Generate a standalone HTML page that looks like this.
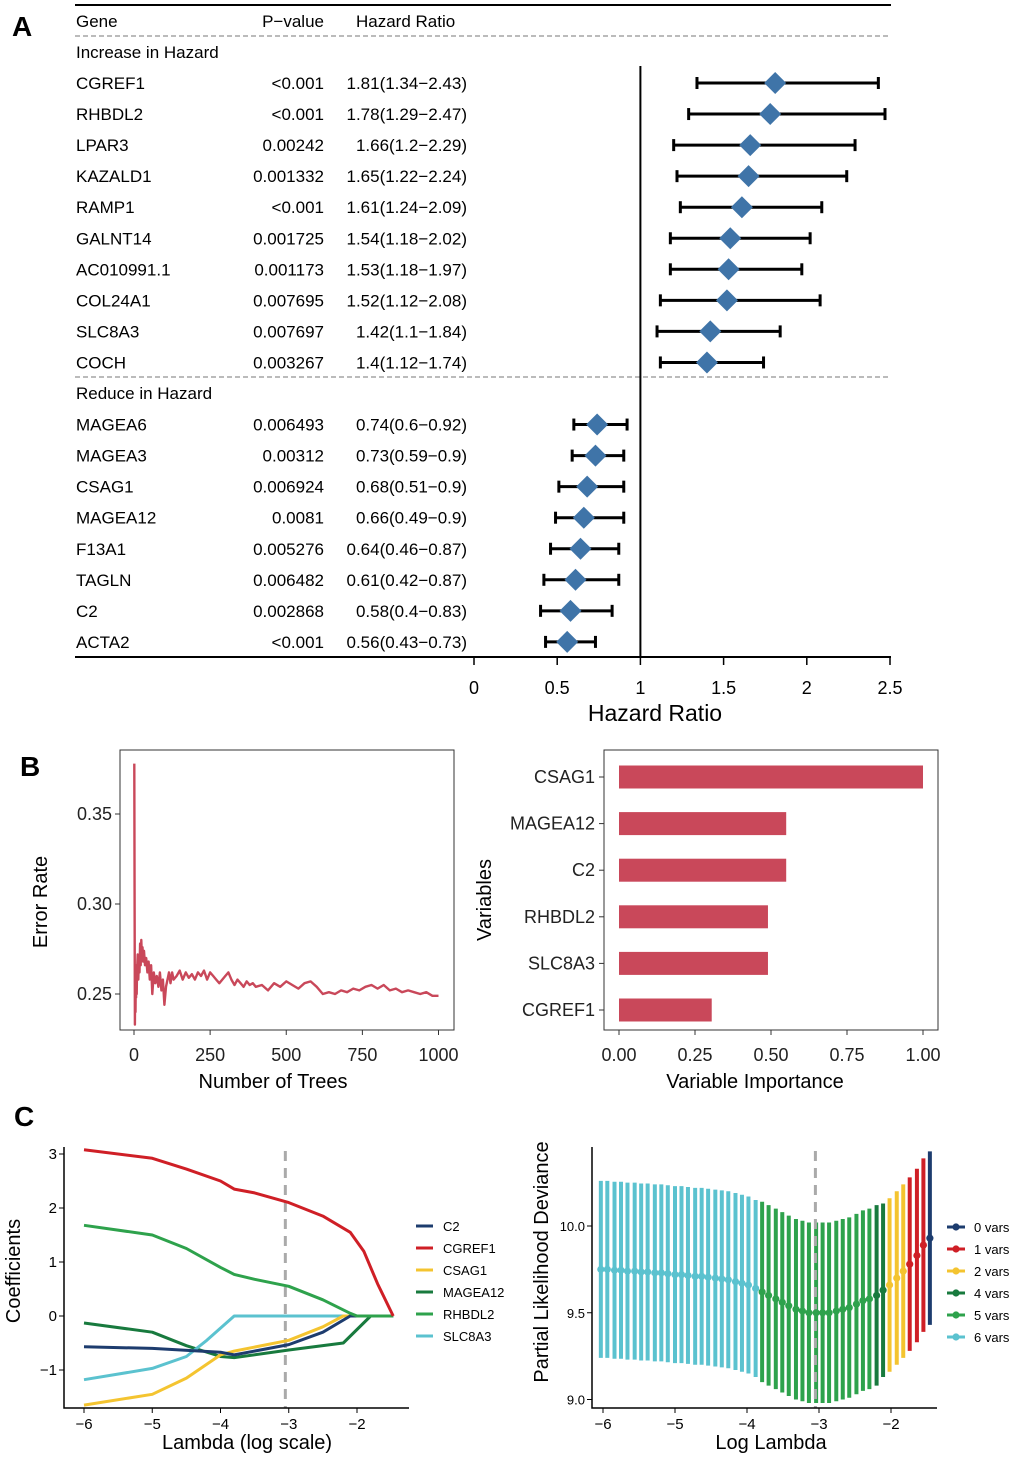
<!DOCTYPE html>
<html><head><meta charset="utf-8"><style>
body{margin:0;background:#fff}
svg{display:block;font-family:"Liberation Sans",Arial,sans-serif}
</style></head><body>
<svg id="fig" width="1020" height="1457" viewBox="0 0 1020 1457" xmlns="http://www.w3.org/2000/svg">
<rect width="1020" height="1457" fill="#fff"/>
<text x="12" y="36" font-size="28" font-weight="bold">A</text>
<text x="20" y="776" font-size="28" font-weight="bold">B</text>
<text x="14" y="1126" font-size="28" font-weight="bold">C</text>
<g id="forest"></g>
<g id="err"></g>
<g id="imp"></g>
<g id="coef"></g>
<g id="dev"></g>
</svg>
<script>
// ---- Panel A data
const incGenes=["CGREF1","RHBDL2","LPAR3","KAZALD1","RAMP1","GALNT14","AC010991.1","COL24A1","SLC8A3","COCH"];
const incP=["<0.001","<0.001","0.00242","0.001332","<0.001","0.001725","0.001173","0.007695","0.007697","0.003267"];
const incHR=[1.81,1.78,1.66,1.65,1.61,1.54,1.53,1.52,1.42,1.4];
const incLo=[1.34,1.29,1.2,1.22,1.24,1.18,1.18,1.12,1.1,1.12];
const incHi=[2.43,2.47,2.29,2.24,2.09,2.02,1.97,2.08,1.84,1.74];
const redGenes=["MAGEA6","MAGEA3","CSAG1","MAGEA12","F13A1","TAGLN","C2","ACTA2"];
const redP=["0.006493","0.00312","0.006924","0.0081","0.005276","0.006482","0.002868","<0.001"];
const redHR=[0.74,0.73,0.68,0.66,0.64,0.61,0.58,0.56];
const redLo=[0.6,0.59,0.51,0.49,0.46,0.42,0.4,0.43];
const redHi=[0.92,0.9,0.9,0.9,0.87,0.87,0.83,0.73];
const hrTicks=[0,0.5,1,1.5,2,2.5];
// ---- Panel B data
const treeN=[1,2,3,4,5,6,7,8,9,10,12,14,16,18,20,22,24,26,28,30,33,36,40,44,48,52,56,60,65,70,75,80,85,90,95,100,105,110,115,120,125,130,140,150,160,170,180,190,200,210,220,230,240,250,260,270,280,290,300,310,320,330,340,350,360,370,380,390,400,420,440,460,480,500,520,540,560,580,600,620,640,660,680,700,720,740,760,780,800,820,840,860,880,900,920,940,960,980,1000];
const errRate=[0.378,0.30,0.233,0.262,0.24,0.258,0.248,0.266,0.25,0.262,0.272,0.258,0.27,0.262,0.278,0.266,0.28,0.27,0.276,0.268,0.274,0.266,0.27,0.262,0.268,0.258,0.266,0.25,0.262,0.256,0.26,0.254,0.262,0.252,0.258,0.244,0.254,0.258,0.262,0.256,0.262,0.258,0.26,0.263,0.258,0.262,0.259,0.261,0.258,0.262,0.26,0.263,0.258,0.262,0.26,0.258,0.256,0.258,0.26,0.262,0.258,0.255,0.258,0.256,0.254,0.257,0.255,0.256,0.254,0.255,0.252,0.256,0.254,0.257,0.255,0.253,0.256,0.257,0.254,0.25,0.251,0.25,0.252,0.251,0.253,0.252,0.254,0.255,0.253,0.255,0.252,0.253,0.251,0.252,0.251,0.250,0.251,0.249,0.249];
const errXTicks=[0,250,500,750,1000];
const errYTicks=[0.25,0.30,0.35];
const impVars=["CSAG1","MAGEA12","C2","RHBDL2","SLC8A3","CGREF1"];
const impVals=[1,0.55,0.55,0.49,0.49,0.305];
const impTicks=[0,0.25,0.5,0.75,1];
// ---- Panel C data
const coefNames=["C2","CGREF1","CSAG1","MAGEA12","RHBDL2","SLC8A3"];
const coefColors=["#1d3c6e","#cf1f26","#f4c430","#187a3e","#2ea24c","#5bc2cf"];
const lamC2=[-6,-5,-4,-3.8,-3,-2.5,-2.1,-1.47];
const valC2=[-0.57,-0.6,-0.67,-0.72,-0.53,-0.3,0,0];
const lamCGREF1=[-6,-5,-4.5,-4,-3.8,-3.5,-3,-2.5,-2.1,-1.9,-1.7,-1.47];
const valCGREF1=[3.08,2.92,2.72,2.5,2.35,2.28,2.1,1.85,1.55,1.2,0.6,0];
const lamCSAG1=[-6,-5,-4.5,-4,-3.8,-3,-2.5,-2.2,-1.47];
const valCSAG1=[-1.65,-1.45,-1.15,-0.72,-0.65,-0.45,-0.2,0,0];
const lamMAGEA12=[-6,-5,-4.5,-4,-3.8,-3,-2.2,-1.8,-1.47];
const valMAGEA12=[-0.13,-0.3,-0.55,-0.75,-0.77,-0.63,-0.5,0,0];
const lamRHBDL2=[-6,-5,-4.5,-4,-3.8,-3.5,-3,-2.5,-2.1,-2,-1.47];
const valRHBDL2=[1.68,1.5,1.25,0.9,0.77,0.68,0.55,0.3,0.05,0,0];
const lamSLC8A3=[-6,-5,-4.5,-4.2,-3.8,-1.47];
const valSLC8A3=[-1.18,-0.97,-0.75,-0.45,0,0];
const coefXTicks=[-6,-5,-4,-3,-2];
const coefYTicks=[-1,0,1,2,3];
const devLambda=[-6.03,-5.94,-5.84,-5.75,-5.66,-5.56,-5.47,-5.38,-5.28,-5.19,-5.1,-5,-4.91,-4.82,-4.72,-4.63,-4.54,-4.44,-4.35,-4.26,-4.16,-4.07,-3.98,-3.88,-3.79,-3.7,-3.6,-3.51,-3.42,-3.32,-3.23,-3.14,-3.04,-2.95,-2.86,-2.76,-2.67,-2.58,-2.48,-2.39,-2.3,-2.2,-2.11,-2.02,-1.92,-1.83,-1.74,-1.64,-1.55,-1.46];
const devMean=[9.75,9.75,9.745,9.745,9.74,9.74,9.735,9.735,9.73,9.73,9.725,9.72,9.72,9.715,9.71,9.71,9.705,9.7,9.695,9.69,9.68,9.67,9.66,9.64,9.62,9.6,9.58,9.56,9.54,9.52,9.51,9.5,9.5,9.5,9.5,9.51,9.52,9.53,9.55,9.57,9.58,9.6,9.63,9.66,9.7,9.74,9.78,9.83,9.89,9.93];
const devSd=[0.51,0.51,0.51,0.51,0.51,0.51,0.51,0.51,0.51,0.51,0.51,0.51,0.51,0.51,0.51,0.51,0.51,0.51,0.51,0.51,0.51,0.51,0.51,0.51,0.52,0.52,0.52,0.52,0.52,0.52,0.52,0.52,0.52,0.52,0.52,0.52,0.52,0.52,0.52,0.52,0.52,0.52,0.5,0.5,0.5,0.5,0.5,0.5,0.5,0.5];
const devVars=[6,6,6,6,6,6,6,6,6,6,6,6,6,6,6,6,6,6,6,6,6,6,6,6,5,5,5,5,5,5,5,5,5,5,5,5,5,5,5,5,5,4,4,2,2,2,1,1,1,0];
const varLevels=[0,1,2,4,5,6];
const varColors={0:"#1d3c6e",1:"#cf1f26",2:"#f4c430",4:"#187a3e",5:"#2ea24c",6:"#5bc2cf"};
const devYTicks=[9.0,9.5,10.0];

const NS="http://www.w3.org/2000/svg";
function mk(parent,tag,attrs,txt){const e=document.createElementNS(NS,tag);for(const k in attrs)e.setAttribute(k,attrs[k]);if(txt!==undefined)e.textContent=txt;parent.appendChild(e);return e;}
const mnus=s=>String(s).replace("-","\u2212");

// ===== Panel A
(function(){
const g=document.getElementById('forest');
const X=v=>474+v*166.4;
const rowY=i=>83+i*31.05;
let e;
e=mk(g,'line',{x1:75,x2:891,y1:5,y2:5,stroke:'#000','stroke-width':2});

e=mk(g,'line',{x1:75,x2:891,y1:36,y2:36,stroke:'#777','stroke-width':1,'stroke-dasharray':'5,3'});

e=mk(g,'line',{x1:75,x2:891,y1:377,y2:377,stroke:'#777','stroke-width':1,'stroke-dasharray':'5,3'});

const hs=[["Gene",76,'start'],["P\u2212value",324,'end'],["Hazard Ratio",356,'start']];
hs.forEach(h=>{e=mk(g,'text',{x:h[1],y:27,'font-size':17,'text-anchor':h[2]},h[0]);
});
e=mk(g,'text',{x:76,y:58,'font-size':17},"Increase in Hazard");

e=mk(g,'text',{x:76,y:399,'font-size':17},"Reduce in Hazard");

function rows(genes,p,hr,lo,hi,start){
 genes.forEach((gn,i)=>{
  const y=rowY(start+i);
  let t=mk(g,'text',{x:76,y:y+6,'font-size':17},gn);
  
  t=mk(g,'text',{x:324,y:y+6,'font-size':17,'text-anchor':'end'},p[i]);
  
  t=mk(g,'text',{x:467,y:y+6,'font-size':17,'text-anchor':'end'},hr[i]+"("+lo[i]+"\u2212"+hi[i]+")");
  
  const ci=mk(g,'g',{});
  
  mk(ci,'line',{x1:X(lo[i]),x2:X(hi[i]),y1:y,y2:y,stroke:'#000','stroke-width':3});
  mk(ci,'line',{x1:X(lo[i]),x2:X(lo[i]),y1:y-6,y2:y+6,stroke:'#000','stroke-width':3});
  mk(ci,'line',{x1:X(hi[i]),x2:X(hi[i]),y1:y-6,y2:y+6,stroke:'#000','stroke-width':3});
  const d=mk(g,'path',{d:`M${X(hr[i])},${y-11}L${X(hr[i])+11},${y}L${X(hr[i])},${y+11}L${X(hr[i])-11},${y}Z`,fill:'#3f74a8'});
  
 });
}
rows(incGenes,incP,incHR,incLo,incHi,0);
rows(redGenes,redP,redHR,redLo,redHi,11);
e=mk(g,'line',{x1:X(1),x2:X(1),y1:66,y2:657,stroke:'#000','stroke-width':2});

e=mk(g,'line',{x1:75,x2:891,y1:657,y2:657,stroke:'#000','stroke-width':2});

hrTicks.forEach(v=>{
 let t=mk(g,'line',{x1:X(v),x2:X(v),y1:657,y2:665,stroke:'#000','stroke-width':1.5});
 
 t=mk(g,'text',{x:X(v),y:694,'font-size':18,'text-anchor':'middle'},String(v));
 
});
e=mk(g,'text',{x:655,y:721,'font-size':23,'text-anchor':'middle'},"Hazard Ratio");

})();

// ===== Panel B left
(function(){
const g=document.getElementById('err');
const X=v=>134+v*0.3045, Y=v=>994-(v-0.25)*1800;
let e=mk(g,'rect',{x:120,y:750,width:334,height:280,fill:'none',stroke:'#333','stroke-width':1});

let d="";treeN.forEach((t,i)=>{d+=(i?"L":"M")+X(t).toFixed(1)+","+Y(errRate[i]).toFixed(1);});
e=mk(g,'path',{d:d,fill:'none',stroke:'#c9485a','stroke-width':2.4,'stroke-linejoin':'round'});

errXTicks.forEach(v=>{let t=mk(g,'line',{x1:X(v),x2:X(v),y1:1030,y2:1035,stroke:'#333'});

t=mk(g,'text',{x:X(v),y:1061,'font-size':18,'text-anchor':'middle',fill:'#222'},String(v));
});
errYTicks.forEach(v=>{let t=mk(g,'line',{x1:115,x2:120,y1:Y(v),y2:Y(v),stroke:'#333'});

t=mk(g,'text',{x:112,y:Y(v)+6,'font-size':18,'text-anchor':'end',fill:'#222'},v.toFixed(2));
});
e=mk(g,'text',{x:273,y:1088,'font-size':20,'text-anchor':'middle'},"Number of Trees");

e=mk(g,'text',{x:0,y:0,'font-size':20,'text-anchor':'middle',transform:'translate(47,902) rotate(-90)'},"Error Rate");

})();

// ===== Panel B right
(function(){
const g=document.getElementById('imp');
const X=v=>619+v*304, Y=i=>777+i*46.6;
let e=mk(g,'rect',{x:604,y:750,width:334,height:280,fill:'none',stroke:'#333','stroke-width':1});

impVars.forEach((v,i)=>{
 let b=mk(g,'rect',{x:X(0),y:Y(i)-11.5,width:X(impVals[i])-X(0),height:23,fill:'#c9485a'});
 
 let t=mk(g,'line',{x1:599,x2:604,y1:Y(i),y2:Y(i),stroke:'#333'});
 
 t=mk(g,'text',{x:595,y:Y(i)+6,'font-size':18,'text-anchor':'end',fill:'#222'},v);
 
});
impTicks.forEach(v=>{let t=mk(g,'line',{x1:X(v),x2:X(v),y1:1030,y2:1035,stroke:'#333'});

t=mk(g,'text',{x:X(v),y:1061,'font-size':18,'text-anchor':'middle',fill:'#222'},v.toFixed(2));
});
e=mk(g,'text',{x:755,y:1088,'font-size':20,'text-anchor':'middle'},"Variable Importance");

e=mk(g,'text',{x:0,y:0,'font-size':20,'text-anchor':'middle',transform:'translate(491,900) rotate(-90)'},"Variables");

})();

// ===== Panel C left
(function(){
const g=document.getElementById('coef');
const X=v=>84+(v+6)*68.25, Y=v=>1316-v*54;
const lams=[lamC2,lamCGREF1,lamCSAG1,lamMAGEA12,lamRHBDL2,lamSLC8A3];
const vals=[valC2,valCGREF1,valCSAG1,valMAGEA12,valRHBDL2,valSLC8A3];
let e=mk(g,'line',{x1:X(-3.05),x2:X(-3.05),y1:1151,y2:1408,stroke:'#aaa','stroke-width':3,'stroke-dasharray':'10,7'});

const order=[3,5,2,0,4,1];
order.forEach(k=>{let d="";lams[k].forEach((l,i)=>{d+=(i?"L":"M")+X(l).toFixed(1)+","+Y(vals[k][i]).toFixed(1);});
 let p=mk(g,'path',{d:d,fill:'none',stroke:coefColors[k],'stroke-width':3,'stroke-linejoin':'round'});
 });
e=mk(g,'path',{d:'M64,1147V1408H409',fill:'none',stroke:'#000','stroke-width':1.5});

coefXTicks.forEach(v=>{let t=mk(g,'line',{x1:X(v),x2:X(v),y1:1408,y2:1413,stroke:'#000'});

t=mk(g,'text',{x:X(v),y:1429,'font-size':15,'text-anchor':'middle'},mnus(v));
});
coefYTicks.forEach(v=>{let t=mk(g,'line',{x1:59,x2:64,y1:Y(v),y2:Y(v),stroke:'#000'});

t=mk(g,'text',{x:57,y:Y(v)+5,'font-size':15,'text-anchor':'end'},mnus(v));
});
e=mk(g,'text',{x:247,y:1449,'font-size':20,'text-anchor':'middle'},"Lambda (log scale)");

e=mk(g,'text',{x:0,y:0,'font-size':20,'text-anchor':'middle',transform:'translate(20,1271) rotate(-90)'},"Coefficients");

coefNames.forEach((n,i)=>{const y=1226+i*22;
 let l=mk(g,'line',{x1:416,x2:433,y1:y,y2:y,stroke:coefColors[i],'stroke-width':3});
 
 l=mk(g,'text',{x:443,y:y+5,'font-size':13},n);
 });
})();

// ===== Panel C right
(function(){
const g=document.getElementById('dev');
const X=v=>603+(v+6)*72, Y=v=>1226-(v-10)*173.5;
devLambda.forEach((l,i)=>{const c=varColors[devVars[i]];
 let b=mk(g,'line',{x1:X(l),x2:X(l),y1:Y(devMean[i]+devSd[i]),y2:Y(devMean[i]-devSd[i]),stroke:c,'stroke-width':4});
 });
let e=mk(g,'line',{x1:X(-3.05),x2:X(-3.05),y1:1151,y2:1408,stroke:'#aaa','stroke-width':3,'stroke-dasharray':'10,7'});

devLambda.forEach((l,i)=>{const c=varColors[devVars[i]];
 let p=mk(g,'circle',{cx:X(l),cy:Y(devMean[i]),r:3.6,fill:c});
 });
e=mk(g,'path',{d:'M592,1147V1408H937',fill:'none',stroke:'#000','stroke-width':1.5});

coefXTicks.forEach(v=>{let t=mk(g,'line',{x1:X(v),x2:X(v),y1:1408,y2:1413,stroke:'#000'});

t=mk(g,'text',{x:X(v),y:1429,'font-size':15,'text-anchor':'middle'},mnus(v));
});
devYTicks.forEach(v=>{let t=mk(g,'line',{x1:587,x2:592,y1:Y(v),y2:Y(v),stroke:'#000'});

t=mk(g,'text',{x:585,y:Y(v)+5,'font-size':13,'text-anchor':'end'},v.toFixed(1));
});
e=mk(g,'text',{x:771,y:1449,'font-size':20,'text-anchor':'middle'},"Log Lambda");

e=mk(g,'text',{x:0,y:0,'font-size':20,'text-anchor':'middle',transform:'translate(548,1262) rotate(-90)'},"Partial Likelihood Deviance");

varLevels.forEach((v,i)=>{const y=1227+i*22;
 let l=mk(g,'line',{x1:947,x2:965,y1:y,y2:y,stroke:varColors[v],'stroke-width':3});
 
 l=mk(g,'circle',{cx:956,cy:y,r:3.6,fill:varColors[v]});
 
 l=mk(g,'text',{x:974,y:y+5,'font-size':13},v+" vars");
 });
})();
</script>
</body></html>
